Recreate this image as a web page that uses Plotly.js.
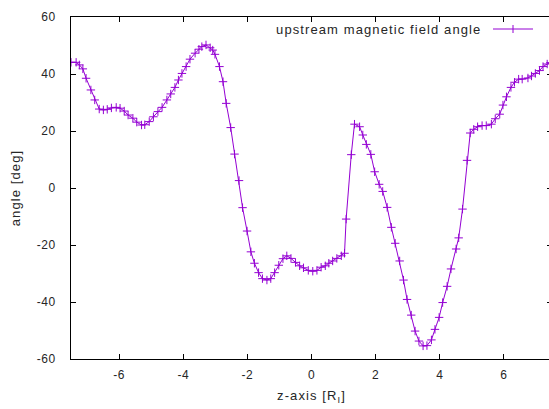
<!DOCTYPE html>
<html>
<head>
<meta charset="utf-8">
<script src="https://cdn.plot.ly/plotly-3.0.1.min.js"></script>
<style>
html, body { margin: 0; padding: 0; overflow: hidden; background: #fff; }
#chart { width: 553px; height: 409px; }
.xtick text, .ytick text { letter-spacing: 0.5px; }
.g-xtitle text, .g-ytitle text, .annotation text { letter-spacing: 1.1px; }
</style>
</head>
<body>
<div id="chart"></div>
<script>
// z-axis position [R_I]
const zPos = [
  -7.50, -7.34, -7.24, -7.13, -7.03, -6.88, -6.76, -6.62, -6.49, -6.37,
  -6.24, -6.09, -5.97, -5.84, -5.72, -5.57, -5.45, -5.30, -5.20, -5.06,
  -4.93, -4.79, -4.66, -4.51, -4.39, -4.26, -4.15, -4.04, -3.91, -3.79,
  -3.63, -3.51, -3.42, -3.29, -3.16, -3.08, -3.01, -2.87, -2.76, -2.66,
  -2.52, -2.40, -2.26, -2.15, -2.01, -1.89, -1.78, -1.65, -1.53, -1.39,
  -1.27, -1.15, -1.02, -0.89, -0.77, -0.64, -0.50, -0.37, -0.25, -0.10,
   0.04,  0.17,  0.30,  0.43,  0.54,  0.66,  0.79,  0.93,  1.03,  1.08,
   1.24,  1.34,  1.50,  1.60,  1.71,  1.85,  1.97,  2.11,  2.22,  2.36,
   2.49,  2.61,  2.75,  2.87,  2.98,  3.11,  3.23,  3.35,  3.48,  3.60,
   3.74,  3.85,  3.98,  4.09,  4.23,  4.35,  4.51,  4.59,  4.71,  4.85,
   4.95,  5.06,  5.18,  5.32,  5.45,  5.61,  5.73,  5.87,  5.97,  6.08,
   6.22,  6.33,  6.46,  6.57,  6.75,  6.86,  6.98,  7.11,  7.22,  7.35,
   7.45
];
// upstream magnetic field angle [deg]
const angle = [
   44.1,  44.1,  43.2,  41.8,  38.5,  34.4,  30.9,  27.7,  27.4,  27.6,
   28.1,  28.3,  28.0,  27.0,  25.6,  24.5,  23.1,  22.1,  22.2,  23.3,
   25.0,  26.8,  28.3,  30.9,  33.0,  35.3,  37.9,  40.2,  42.6,  45.2,
   47.3,  48.7,  49.6,  50.2,  49.2,  48.4,  46.9,  42.6,  37.3,  29.7,
   21.2,  11.9,   2.6,  -6.9, -15.1, -22.4, -26.4, -29.7, -31.8, -32.3,
  -31.8, -29.7, -27.1, -24.8, -23.8, -24.7, -26.1, -27.3, -28.0, -28.9,
  -29.2, -28.9, -27.8, -27.3, -26.4, -25.6, -24.7, -23.8, -22.9, -10.9,
   11.7,  22.4,  21.5,  18.6,  15.3,  11.8,   5.7,   1.3,  -1.2,  -6.8,
  -13.8, -19.4, -25.6, -32.3, -39.1, -44.6, -50.2, -53.7, -55.4, -55.3,
  -53.3, -49.6, -45.4, -40.2, -34.5, -28.4, -21.4, -17.5,  -7.4,   9.7,
   19.3,  20.6,  21.5,  21.9,  21.9,  22.4,  24.3,  25.9,  29.1,  32.0,
   35.3,  37.1,  38.2,  38.2,  38.6,  39.3,  40.2,  41.2,  42.6,  43.5,
   44.0
];
const xTicks = [-6, -4, -2, 0, 2, 4, 6];
const yTicks = [-60, -40, -20, 0, 20, 40, 60];
const seriesName = "upstream magnetic field angle";

const lineColor = "#9400D3";
const txtColor = "#262626";
const fontFam = "Liberation Sans, Arial, sans-serif";

const trace = {
  x: zPos,
  y: angle,
  type: "scatter",
  mode: "lines+markers",
  name: seriesName,
  line: { color: lineColor, width: 1 },
  marker: { symbol: "cross-thin", size: 6, color: lineColor, line: { color: lineColor, width: 1 } },
  showlegend: false,
  hoverinfo: "skip"
};

// manual gnuplot-style key (text left of sample)
const px = v => (v - 71) / 481;
const py = v => (359 - v) / 342;

const layout = {
  width: 553,
  height: 409,
  margin: { l: 71, r: 1, t: 17, b: 50, pad: 0 },
  paper_bgcolor: "#ffffff",
  plot_bgcolor: "#ffffff",
  font: { family: fontFam, size: 12, color: txtColor },
  showlegend: false,
  xaxis: {
    range: [-7.5, 7.5],
    tickvals: xTicks,
    ticktext: xTicks.map(String),
    ticks: "inside",
    ticklen: 5,
    tickcolor: "#000",
    tickwidth: 1,
    showline: true,
    linecolor: "#000",
    linewidth: 1,
    mirror: "ticks",
    showgrid: false,
    zeroline: false,
    ticklabelstandoff: 5,
    tickfont: { family: fontFam, size: 12, color: txtColor },
    title: { text: "z-axis [R<sub>I</sub>]", font: { family: fontFam, size: 13, color: txtColor }, standoff: 9 }
  },
  yaxis: {
    range: [-60, 60],
    tickvals: yTicks,
    ticktext: yTicks.map(String),
    ticks: "inside",
    ticklen: 5,
    tickcolor: "#000",
    tickwidth: 1,
    showline: true,
    linecolor: "#000",
    linewidth: 1,
    mirror: "ticks",
    showgrid: false,
    zeroline: false,
    ticklabelstandoff: 12,
    tickfont: { family: fontFam, size: 12, color: txtColor },
    title: { text: "angle [deg]", font: { family: fontFam, size: 13, color: txtColor }, standoff: 13 }
  },
  annotations: [
    {
      xref: "paper", yref: "paper",
      x: px(378), y: py(29),
      xanchor: "center", yanchor: "middle",
      text: seriesName,
      showarrow: false,
      font: { family: fontFam, size: 13, color: txtColor }
    }
  ],
  shapes: [
    { type: "line", xref: "paper", yref: "paper", x0: px(493), x1: px(533), y0: py(29), y1: py(29), line: { color: lineColor, width: 1 } },
    { type: "line", xref: "paper", yref: "paper", x0: px(513), x1: px(513), y0: py(25), y1: py(33), line: { color: lineColor, width: 1 } }
  ]
};

Plotly.newPlot("chart", [trace], layout, { displayModeBar: false, staticPlot: true });
</script>
</body>
</html>
